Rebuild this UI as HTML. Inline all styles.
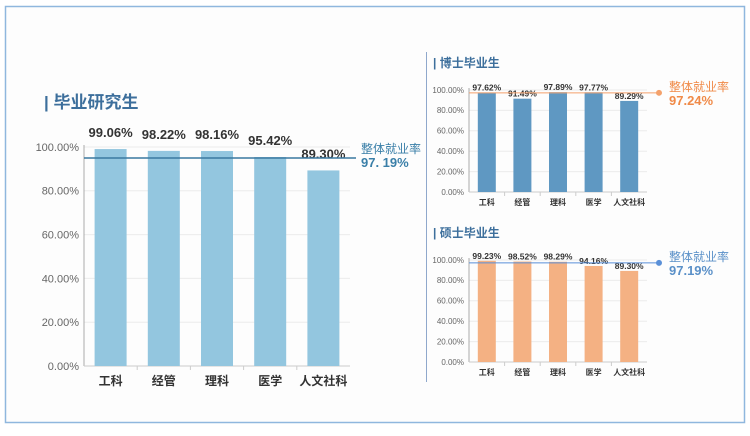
<!DOCTYPE html>
<html><head><meta charset="utf-8">
<style>
html,body{margin:0;padding:0;background:#fff;}
body{width:750px;height:431px;overflow:hidden;font-family:"Liberation Sans","Noto Sans CJK SC",sans-serif;}
svg text{font-family:"Liberation Sans","Noto Sans CJK SC",sans-serif;}
</style></head>
<body>
<svg id="chart" width="750" height="431" xmlns="http://www.w3.org/2000/svg">
<rect x="5.5" y="6.5" width="739" height="416" fill="#fdfdfd" stroke="#8fb7de" stroke-width="1.5"/>
<line x1="426.5" y1="52" x2="426.5" y2="382" stroke="#8fa8cc" stroke-width="1"/>
</svg>
<script>
const categories = ["工科","经管","理科","医学","人文社科"];
const mainValues = [99.06,98.22,98.16,95.42,89.30];
const phdValues = [97.62,91.49,97.89,97.77,89.29];
const masterValues = [99.23,98.52,98.29,94.16,89.30];
const mainRefLine = [95.0];
const phdRefLine = [97.24];
const masterRefLine = [97.19];
const mainRefLabel = ["97. 19%"];
const phdRefLabel = ["97.24%"];
const masterRefLabel = ["97.19%"];
const yTicks = [0,20,40,60,80,100];

const svg = document.getElementById('chart');
const NS = 'http://www.w3.org/2000/svg';
function mk(tag, attrs, parent){
  const e = document.createElementNS(NS, tag);
  for (const k in attrs) e.setAttribute(k, attrs[k]);
  (parent||svg).appendChild(e); return e;
}
function drawChart(cfg){
  const g = mk('g', {});
  
  
  const yScale = v => cfg.y0 - (cfg.y0 - cfg.y100) * v / 100;
  const band = (cfg.x1 - cfg.x0) / categories.length;
  const xCenter = i => cfg.x0 + band * (i + 0.5);
  // title
  const t = mk('text', {x: cfg.tx, y: cfg.ty, 'font-size': cfg.tfs, 'font-weight': 'bold', fill: '#3d6f9c'}, g);
  t.textContent = '| ' + cfg.title;
  
  
  // grid + ticks
  yTicks.forEach(v => {
    const y = yScale(v);
    if (v > 0) {
      const gl = mk('line', {x1: cfg.x0, x2: cfg.x1, y1: y, y2: y, stroke: '#ececec', 'stroke-width': 1}, g);
      
      
    }
    const tk = mk('text', {x: cfg.x0 - 5, y: y + cfg.tickFs * 0.35, 'font-size': cfg.tickFs, fill: '#666', 'text-anchor': 'end'}, g);
    tk.textContent = v.toFixed(2) + '%';
    
    
  });
  const ya = mk('line', {x1: cfg.x0, x2: cfg.x0, y1: cfg.y100 - 2, y2: cfg.y0, stroke: '#aaa'}, g);
  
  
  const xa = mk('line', {x1: cfg.x0, x2: cfg.x1, y1: cfg.y0, y2: cfg.y0, stroke: '#ccc'}, g);
  
  
  cfg.values.forEach((v, i) => {
    const cx = xCenter(i);
    const b = mk('rect', {x: cx - cfg.bw/2, y: yScale(v), width: cfg.bw, height: cfg.y0 - yScale(v), fill: cfg.color}, g);
    
    
    const lbl = mk('text', {x: cx, y: yScale(v) - cfg.lblOff, 'font-size': cfg.lblFs, 'font-weight': 'bold', fill: '#333', 'text-anchor': 'middle'}, g);
    lbl.textContent = v.toFixed(2) + '%';
    
    
    const c = mk('text', {x: cx, y: cfg.y0 + cfg.catOff, 'font-size': cfg.catFs, 'font-weight': 'bold', fill: '#333', 'text-anchor': 'middle'}, g);
    c.textContent = categories[i];
    
    
    if (i > 0) {
      const tk = mk('line', {x1: cfg.x0 + band*i, x2: cfg.x0 + band*i, y1: cfg.y0, y2: cfg.y0 + 4, stroke: '#ccc'}, g);
      
      
    }
  });
  const ry = yScale(cfg.ref[0]);
  const rl = mk('line', {x1: cfg.x0, x2: cfg.refEnd, y1: ry, y2: ry, stroke: cfg.refColor, 'stroke-width': cfg.refW}, g);
  
  
  if (cfg.dot) {
    const d = mk('circle', {cx: cfg.refEnd, cy: ry, r: 3, fill: cfg.refColor}, g);
    
    
  }
  const l1 = mk('text', {x: cfg.lx, y: cfg.ly, 'font-size': cfg.lfs, fill: cfg.refText}, g);
  l1.textContent = '整体就业率';
  
  
  const l2 = mk('text', {x: cfg.lx, y: cfg.ly + cfg.lfs + 2, 'font-size': cfg.lfs + 1, 'font-weight': 'bold', fill: cfg.refText}, g);
  l2.textContent = cfg.refLabel[0];
  
  
}
drawChart({name:'graduate-chart', title:'毕业研究生', tx:44, ty:108, tfs:17, values:mainValues, x0:84, x1:350, y0:366, y100:147, bw:32, color:'#93c6df',
  tickFs:11, lblFs:13, lblOff:12, catFs:12, catOff:19, ref:mainRefLine, refLabel:mainRefLabel, refEnd:356, refColor:'#3a78a0', refW:1.5, dot:false, refText:'#3a7fa8', lx:361, ly:153, lfs:12});
drawChart({name:'phd-chart', title:'博士毕业生', tx:433, ty:67, tfs:12, values:phdValues, x0:469, x1:647, y0:192, y100:90, bw:18, color:'#5f98c2',
  tickFs:8, lblFs:8.5, lblOff:2, catFs:8, catOff:13, ref:phdRefLine, refLabel:phdRefLabel, refEnd:659, refColor:'#f4a16b', refW:1, dot:true, refText:'#f08a48', lx:669, ly:91, lfs:12});
drawChart({name:'master-chart', title:'硕士毕业生', tx:433, ty:237, tfs:12, values:masterValues, x0:469, x1:647, y0:362, y100:260, bw:18, color:'#f4b183',
  tickFs:8, lblFs:8.5, lblOff:2, catFs:8, catOff:13, ref:masterRefLine, refLabel:masterRefLabel, refEnd:659, refColor:'#5a90d8', refW:1, dot:true, refText:'#5a90c8', lx:669, ly:261, lfs:12});
</script>
</body></html>
